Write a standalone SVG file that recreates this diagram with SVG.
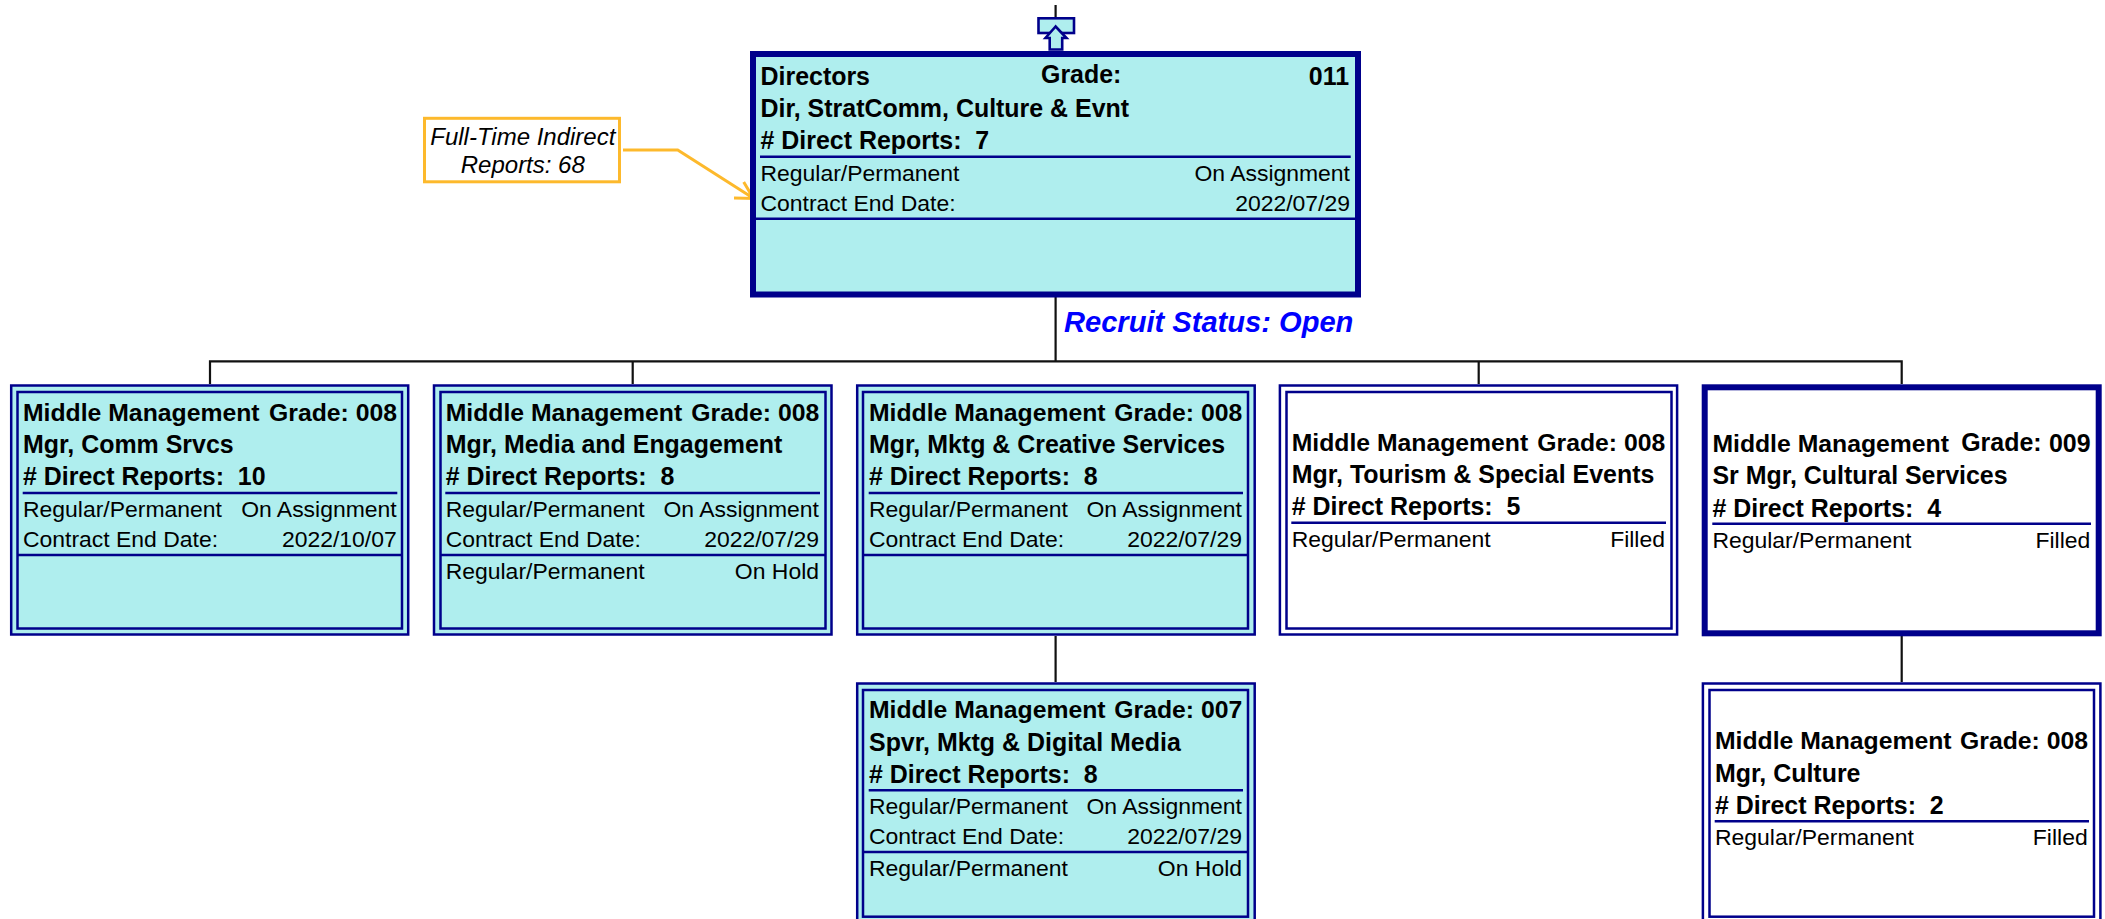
<svg xmlns="http://www.w3.org/2000/svg" width="2105" height="919" viewBox="0 0 2105 919">
<style>
text{font-family:"Liberation Sans",Arial,sans-serif;fill:#000}
.b{font-weight:bold;font-size:24.95px}
.m{font-size:24.75px}
.r{font-size:22.95px}
.e{text-anchor:end}
.i{font-style:italic;font-size:24px;text-anchor:middle}
.o{fill:#AFEEEE;stroke:#00008B;stroke-width:2.5}
.w{fill:#fff;stroke:#00008B;stroke-width:2.5}
.tk{fill:#AFEEEE;stroke:#00008B;stroke-width:6}
.tw{fill:#fff;stroke:#00008B;stroke-width:6}
.s{stroke-width:2.6}
.d{stroke:#00008B;stroke-width:2.5;fill:none}
.c{stroke:#111;stroke-width:2.2;fill:none}
.y{stroke:#FDB92C;stroke-width:3;fill:none}
</style>
<g id="connectors">
<path class="c" d="M1055.6 5V17M1055.6 297V361.3M210 384V361.3H1901.7V384M632.7 361.3V384M1478.7 361.3V384M1055.6 636V682M1901.7 636V682"/>
<path class="y" d="M623 150H677.7L753 198M743.7 182L753.5 198.5L734 198"/>
</g>
<g id="uplink">
<rect class="tk s" x="1038.5" y="18.3" width="35.5" height="14.7"/>
<path class="tk s" d="M1055.6 26.5L1045.5 38H1049.7V49.5H1062.2V38H1066.5Z"/>
</g>
<g id="callout">
<rect class="y" x="424.5" y="118.3" width="195" height="63.5"/>
<text class="i" x="522.8" y="144.7">Full-Time Indirect</text>
<text class="i" x="522.8" y="172.7">Reports: 68</text>
</g>
<g id="node-director">
<rect class="tk" x="753" y="54" width="605" height="240.5"/>
<text class="b" x="760.5" y="85">Directors</text>
<text class="b" x="1041" y="82.8">Grade:</text>
<text class="b e" x="1349" y="85">011</text>
<text class="b" x="760.5" y="117">Dir, StratComm, Culture &amp; Evnt</text>
<text class="b" x="760.5" y="149.3" xml:space="preserve"># Direct Reports:  7</text>
<path class="d" d="M760 156.7H1350.7M756 218.7H1355"/>
<text class="r" x="760.5" y="181">Regular/Permanent</text>
<text class="r e" x="1350" y="181">On Assignment</text>
<text class="r" x="760.5" y="211">Contract End Date:</text>
<text class="r e" x="1350" y="211">2022/07/29</text>
</g>
<text id="recruit-status" x="1064" y="332.2" font-weight="bold" font-style="italic" font-size="29.1" style="fill:#0000FF">Recruit Status: Open</text>
<g id="node-comm">
<rect class="o" x="11.2" y="385.5" width="397" height="249"/>
<rect class="o" x="17.5" y="392" width="384.5" height="236.5"/>
<text class="b m" x="23" y="420.8">Middle Management</text>
<text class="b m e" x="397" y="420.8">Grade: 008</text>
<text class="b" x="23" y="452.8">Mgr, Comm Srvcs</text>
<text class="b" x="23" y="485.3" xml:space="preserve"># Direct Reports:  10</text>
<path class="d" d="M22.7 493H397.3M17.5 555H402"/>
<text class="r" x="23" y="517">Regular/Permanent</text>
<text class="r e" x="396.7" y="517">On Assignment</text>
<text class="r" x="23" y="547">Contract End Date:</text>
<text class="r e" x="396.7" y="547">2022/10/07</text>
</g>
<g id="node-media">
<rect class="o" x="434" y="385.5" width="397.5" height="249"/>
<rect class="o" x="440.5" y="392" width="385" height="236.5"/>
<text class="b m" x="445.7" y="420.8">Middle Management</text>
<text class="b m e" x="819.3" y="420.8">Grade: 008</text>
<text class="b" x="445.7" y="452.8">Mgr, Media and Engagement</text>
<text class="b" x="445.7" y="485.3" xml:space="preserve"># Direct Reports:  8</text>
<path class="d" d="M445.3 493H820M440.5 555H825.5"/>
<text class="r" x="445.7" y="517">Regular/Permanent</text>
<text class="r e" x="819" y="517">On Assignment</text>
<text class="r" x="445.7" y="547">Contract End Date:</text>
<text class="r e" x="819" y="547">2022/07/29</text>
<text class="r" x="445.7" y="579">Regular/Permanent</text>
<text class="r e" x="819" y="579">On Hold</text>
</g>
<g id="node-mktg">
<rect class="o" x="857.2" y="385.5" width="397.5" height="249"/>
<rect class="o" x="863" y="392" width="385" height="236.5"/>
<text class="b m" x="869" y="420.8">Middle Management</text>
<text class="b m e" x="1242.3" y="420.8">Grade: 008</text>
<text class="b" x="869" y="452.8">Mgr, Mktg &amp; Creative Services</text>
<text class="b" x="869" y="485.3" xml:space="preserve"># Direct Reports:  8</text>
<path class="d" d="M868.7 493H1243M863 555H1248"/>
<text class="r" x="869" y="517">Regular/Permanent</text>
<text class="r e" x="1242" y="517">On Assignment</text>
<text class="r" x="869" y="547">Contract End Date:</text>
<text class="r e" x="1242" y="547">2022/07/29</text>
</g>
<g id="node-tourism">
<rect class="w" x="1279.9" y="385.5" width="397.2" height="249"/>
<rect class="w" x="1286.5" y="392" width="385" height="236.5"/>
<text class="b m" x="1291.7" y="450.8">Middle Management</text>
<text class="b m e" x="1665.3" y="450.8">Grade: 008</text>
<text class="b" x="1291.7" y="483.3">Mgr, Tourism &amp; Special Events</text>
<text class="b" x="1291.7" y="514.8" xml:space="preserve"># Direct Reports:  5</text>
<path class="d" d="M1291.3 522.7H1666"/>
<text class="r" x="1291.7" y="546.7">Regular/Permanent</text>
<text class="r e" x="1665" y="546.7">Filled</text>
</g>
<g id="node-cultural">
<rect class="tw" x="1704.7" y="387.3" width="394" height="246"/>
<text class="b m" x="1712.4" y="452">Middle Management</text>
<text class="b" x="1961.2" y="451">Grade:</text>
<text class="b e" x="2090.6" y="452">009</text>
<text class="b" x="1712.4" y="484">Sr Mgr, Cultural Services</text>
<text class="b" x="1712.4" y="516.6" xml:space="preserve"># Direct Reports:  4</text>
<path class="d" d="M1712.3 523.7H2091"/>
<text class="r" x="1712.4" y="547.7">Regular/Permanent</text>
<text class="r e" x="2090.3" y="547.7">Filled</text>
</g>
<g id="node-digital">
<rect class="o" x="857.2" y="683.5" width="397.5" height="249"/>
<rect class="o" x="863" y="690" width="385" height="226.7"/>
<text class="b m" x="869" y="718">Middle Management</text>
<text class="b m e" x="1242.3" y="718">Grade: 007</text>
<text class="b" x="869" y="751.3">Spvr, Mktg &amp; Digital Media</text>
<text class="b" x="869" y="783" xml:space="preserve"># Direct Reports:  8</text>
<path class="d" d="M868.7 790.3H1243M863 852H1248"/>
<text class="r" x="869" y="813.7">Regular/Permanent</text>
<text class="r e" x="1242" y="813.7">On Assignment</text>
<text class="r" x="869" y="843.7">Contract End Date:</text>
<text class="r e" x="1242" y="843.7">2022/07/29</text>
<text class="r" x="869" y="876">Regular/Permanent</text>
<text class="r e" x="1242" y="876">On Hold</text>
</g>
<g id="node-culture">
<rect class="w" x="1702.9" y="683.5" width="397.5" height="249"/>
<rect class="w" x="1709.5" y="690" width="384.5" height="226.7"/>
<text class="b m" x="1715" y="749.3">Middle Management</text>
<text class="b m e" x="2088" y="749.3">Grade: 008</text>
<text class="b" x="1715" y="782">Mgr, Culture</text>
<text class="b" x="1715" y="814" xml:space="preserve"># Direct Reports:  2</text>
<path class="d" d="M1714.7 821.3H2089"/>
<text class="r" x="1715" y="845">Regular/Permanent</text>
<text class="r e" x="2087.7" y="845">Filled</text>
</g>
</svg>
